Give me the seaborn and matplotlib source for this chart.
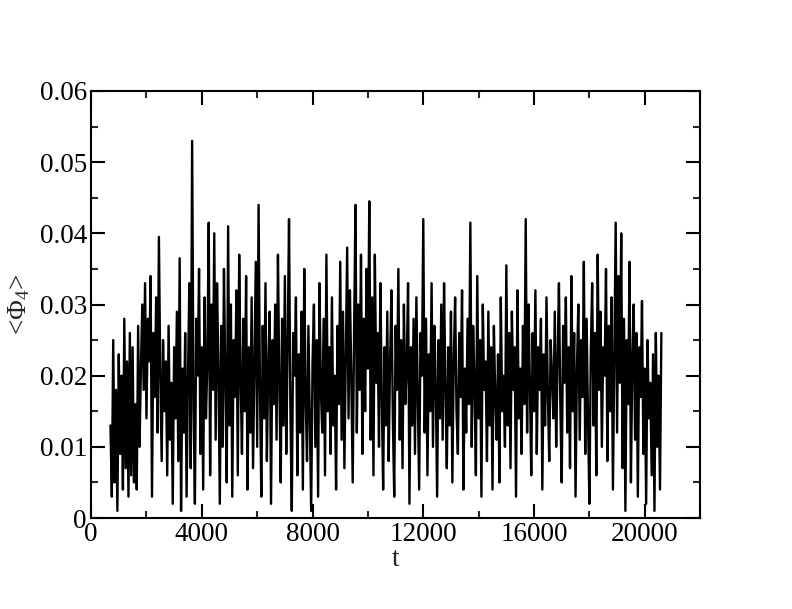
import numpy as np
import pandas as pd
import matplotlib
matplotlib.use("Agg")
import matplotlib.pyplot as plt
from matplotlib.ticker import MultipleLocator, FuncFormatter
import seaborn as sns

# time axis: sampled every 50 from 700 to 20600
t_start = 700
t_step = 50

# <Phi_4> values (in units of 1e-3), chunk by chunk (1000 t each)
v_0700 = [13, 3, 25, 5, 18, 1, 23, 9, 20, 4, 28, 7, 22, 3, 26, 6, 24, 5, 16, 4]
v_1700 = [27, 10, 21, 30, 18, 33, 14, 28, 22, 34, 3, 26, 17, 31, 12, 39.5, 20, 8, 25, 15]
v_2700 = [22, 6, 27, 11, 19, 2, 24, 14, 29, 8, 36.5, 1, 21, 12, 26, 3, 20, 33, 7, 53]
v_3700 = [16, 2, 28, 20, 35, 9, 24, 4, 31, 14, 22, 41.5, 6, 30, 18, 40, 11, 33, 21, 2]
v_4700 = [27, 10, 35, 19, 5, 41, 13, 30, 3, 25, 17, 32, 6, 37, 20, 9, 28, 15, 34, 4]
v_5700 = [24, 12, 31, 7, 22, 36, 10, 44, 18, 3, 27, 14, 33, 8, 21, 29, 2, 25, 16, 30]
v_6700 = [11, 37, 19, 5, 28, 13, 34, 9, 24, 42, 15, 1, 26, 20, 31, 6, 23, 12, 29, 4]
v_7700 = [35, 17, 8, 27, 14, 1, 22, 30, 10, 25, 3, 33, 18, 12, 28, 6, 37, 15, 24, 9]
v_8700 = [31, 13, 20, 4, 27, 16, 36, 11, 29, 7, 23, 38, 14, 32, 20, 5, 26, 44, 12, 30]
v_9700 = [18, 37, 9, 28, 15, 35, 21, 44.5, 11, 31, 6, 37, 19, 26, 10, 33, 17, 4, 24, 13]
v_10700 = [29, 8, 22, 32, 14, 3, 27, 18, 35, 11, 25, 7, 30, 16, 21, 33, 2, 24, 13, 28]
v_11700 = [9, 31, 17, 4, 26, 20, 42, 12, 28, 6, 23, 15, 33, 10, 27, 19, 3, 25, 14, 30]
v_12700 = [11, 33, 18, 7, 24, 13, 29, 5, 22, 31, 15, 9, 26, 17, 32, 4, 21, 12, 28, 16]
v_13700 = [41.5, 10, 27, 19, 6, 34, 14, 25, 3, 30, 18, 22, 8, 29, 13, 24, 4, 27, 17, 11]
v_14700 = [23, 5, 31, 15, 20, 10, 35.5, 13, 26, 7, 29, 18, 24, 3, 32, 14, 21, 9, 27, 16]
v_15700 = [42, 12, 30, 19, 6, 26, 15, 32, 9, 24, 18, 28, 4, 23, 13, 31, 17, 8, 25, 20]
v_16700 = [14, 29, 10, 22, 33, 16, 5, 27, 19, 31, 12, 24, 7, 34, 15, 26, 3, 21, 30, 11]
v_17700 = [25, 17, 36, 9, 28, 14, 2, 23, 33, 13, 26, 6, 37, 18, 29, 10, 24, 20, 35, 8]
v_18700 = [27, 15, 31, 4, 23, 41.5, 12, 34, 19, 40, 7, 28, 1, 25, 16, 36, 5, 22, 30, 11]
v_19700 = [26, 3, 24, 17, 30.5, 9, 21, 2, 25, 14, 19, 6, 23, 1, 26, 10, 20, 4, 26]

chunks = [v_0700, v_1700, v_2700, v_3700, v_4700, v_5700, v_6700, v_7700, v_8700,
          v_9700, v_10700, v_11700, v_12700, v_13700, v_14700, v_15700, v_16700,
          v_17700, v_18700, v_19700]
phi = np.concatenate([np.asarray(c, dtype=float) for c in chunks]) * 1e-3
t = t_start + t_step * np.arange(len(phi))
df = pd.DataFrame({"t": t, "phi": phi})

x_ticks = [0, 4000, 8000, 12000, 16000, 20000]
y_ticks = [0, 0.01, 0.02, 0.03, 0.04, 0.05, 0.06]

sns.set_style("ticks")
plt.rcParams["font.family"] = ["Liberation Serif", "DejaVu Serif"]
plt.rcParams["mathtext.fontset"] = "custom"
plt.rcParams["mathtext.rm"] = "Liberation Serif"
plt.rcParams["mathtext.it"] = "Liberation Serif"

fig = plt.figure(figsize=(7.92, 6.09), dpi=100)
ax = fig.add_axes([0.115, 0.1494, 0.769, 0.7012])

sns.lineplot(data=df, x="t", y="phi", color="black", linewidth=1.7, ax=ax,
             estimator=None, sort=False)

ax.set_xlim(0, 22000)
ax.set_ylim(0, 0.06)
ax.set_xticks(x_ticks)
ax.set_yticks(y_ticks)
ax.xaxis.set_minor_locator(MultipleLocator(2000))
ax.yaxis.set_minor_locator(MultipleLocator(0.005))
ax.yaxis.set_major_formatter(FuncFormatter(lambda v, p: "0" if abs(v) < 1e-12 else f"{v:.2f}"))
ax.xaxis.set_major_formatter(FuncFormatter(lambda v, p: f"{int(v)}"))

ax.tick_params(which="major", direction="in", length=10, width=1.5, labelsize=19.5,
               top=True, right=True, pad=3, colors="black")
ax.tick_params(which="minor", direction="in", length=5, width=1.5,
               top=True, right=True)
for s in ax.spines.values():
    s.set_linewidth(1.5)
    s.set_color("black")

ax.set_xlabel("t", fontsize=19.5, labelpad=0)
ax.set_ylabel(r"<Φ$_4$>", fontsize=19.5, labelpad=5)

fig.savefig("out.png", dpi=100)
